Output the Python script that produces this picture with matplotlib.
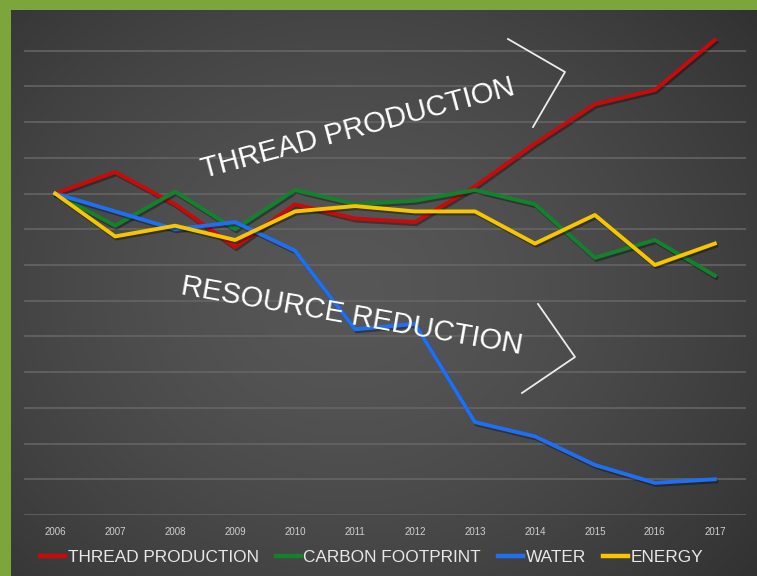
import matplotlib
matplotlib.use('Agg')
import matplotlib.pyplot as plt
import numpy as np
import matplotlib.patheffects as pe
from matplotlib.lines import Line2D

years = ['2006', '2007', '2008', '2009', '2010', '2011',
         '2012', '2013', '2014', '2015', '2016', '2017']
thread_production = [90, 96, 87, 75, 87, 83, 82, 92, 104, 115, 119, 133]
carbon_footprint = [90, 81, 90.5, 80, 91, 87, 88, 91, 87, 72, 77, 67]
water = [90, 85, 80, 82, 74, 52, 53.5, 26, 22, 14, 9, 10]
energy = [90, 78, 81, 77, 85, 86.5, 85, 85, 76, 84, 70, 76]
series_names = ['THREAD PRODUCTION', 'CARBON FOOTPRINT', 'WATER', 'ENERGY']
series_colors = ['#c80a0a', '#12832c', '#1f6ff2', '#f7c600']

W, H = 757, 576
fig = plt.figure(figsize=(W / 100, H / 100), dpi=100)
fig.patch.set_facecolor('#7ca53c')

# dark panel with radial gradient
bg = fig.add_axes([11 / W, 0, 1 - 11 / W, 1 - 10 / H])
bg.set_axis_off()
nx, ny = 300, 230
xx, yy = np.meshgrid(np.linspace(0, 1, nx), np.linspace(0, 1, ny))
d = np.sqrt(((xx - 0.45) / 0.75) ** 2 + ((yy - 0.5) / 0.85) ** 2)
val = 0.34 - 0.16 * np.clip(d, 0, 1) ** 1.5
img = np.dstack([val, val, val])
bg.imshow(img, aspect='auto', extent=[0, 1, 0, 1], origin='lower')
bg.set_xlim(0, 1)
bg.set_ylim(0, 1)

ax = fig.add_axes([24 / W, (H - 515) / H, (746 - 24) / W, (515 - 15) / H])
ax.set_facecolor('none')
x = np.arange(len(years))
all_series = [thread_production, carbon_footprint, water, energy]
for vals, name, c in zip(all_series, series_names, series_colors):
    ax.plot(x, vals, color=c, lw=2.8, label=name, zorder=3,
            path_effects=[pe.SimpleLineShadow(offset=(1, -1.5), shadow_color='black', alpha=0.35),
                          pe.Normal()])
ax.set_xlim(-0.52, 11.52)
ax.set_ylim(0, 140)
ax.set_yticks(np.arange(0, 140, 10))
ax.set_axisbelow(True)
ax.yaxis.grid(True, color='#676767', lw=1.1)
ax.tick_params(left=False, bottom=False, labelleft=False)
ax.set_xticks(x)
ax.set_xticklabels(years, color='#cfcfcf', fontsize=7, family=['Liberation Sans', 'DejaVu Sans'])
ax.tick_params(axis='x', pad=5)
for s in ax.spines.values():
    s.set_visible(False)

# annotations
fig.text(358 / W, 1 - 128 / H, 'THREAD PRODUCTION', rotation=15, rotation_mode='anchor',
         ha='center', va='center', fontsize=21, color='white', family=['Liberation Sans', 'DejaVu Sans'],
         zorder=5)
fig.text(352 / W, 1 - 316 / H, 'RESOURCE REDUCTION', rotation=-10, rotation_mode='anchor',
         ha='center', va='center', fontsize=21, color='white', family=['Liberation Sans', 'DejaVu Sans'],
         zorder=5)

def chevron(pts):
    xs = [p[0] / W for p in pts]
    ys = [1 - p[1] / H for p in pts]
    fig.add_artist(Line2D(xs, ys, transform=fig.transFigure, color='#ececec', lw=1.3, zorder=5))

chevron([(508, 39), (565, 72), (533, 127)])
chevron([(538, 304), (575, 357), (522, 393)])

handles = [Line2D([0], [0], color=c, lw=3.2) for c in series_colors]
leg = fig.legend(handles, series_names, loc='center', bbox_to_anchor=(0.491, 0.032), ncol=4,
                 frameon=False, handlelength=1.45, handletextpad=0.15, columnspacing=1.0,
                 prop={'family': ['Liberation Sans', 'DejaVu Sans'], 'size': 12.4})
for t in leg.get_texts():
    t.set_color('#e8e8e8')

fig.savefig('out.png', dpi=100, facecolor=fig.get_facecolor())
